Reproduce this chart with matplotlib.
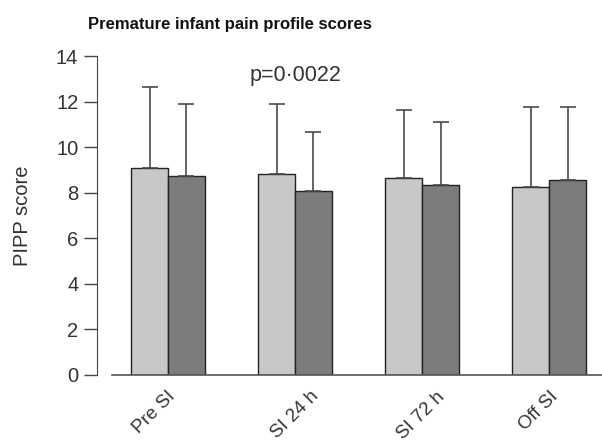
import matplotlib.pyplot as plt
import numpy as np

plt.rcParams['font.family'] = ['Liberation Sans', 'DejaVu Sans']

groups = ["Pre SI", "SI 24 h", "SI 72 h", "Off SI"]
mean_a = [9.08, 8.82, 8.64, 8.27]
upper_a = [12.63, 11.89, 11.65, 11.78]
mean_b = [8.73, 8.07, 8.35, 8.57]
upper_b = [11.89, 10.67, 11.10, 11.74]

sd_a = np.array(upper_a) - np.array(mean_a)
sd_b = np.array(upper_b) - np.array(mean_b)

fig = plt.figure(figsize=(6.02, 4.47), dpi=100)
ax = fig.add_axes([112 / 602, 1 - 375 / 447, 490 / 602, 319 / 447])

x = np.arange(len(groups))
w = 0.291
err_kw = dict(ecolor="#4a4a4a", elinewidth=1.2, capsize=5.5, capthick=1.2)
ax.bar(x - w / 2, mean_a, w, color="#c8c8c8", edgecolor="#222222", linewidth=1.0,
       yerr=[np.zeros(4), sd_a], error_kw=err_kw)
ax.bar(x + w / 2, mean_b, w, color="#7c7c7c", edgecolor="#222222", linewidth=1.0,
       yerr=[np.zeros(4), sd_b], error_kw=err_kw)

ax.set_xlim(-0.441, 3.417)
ax.set_ylim(0, 14)
ax.set_yticks(range(0, 15, 2))
ax.set_xticks(x)
ax.set_xticklabels([])

# slanted category names, each nudged a little (offsets in pixels)
nudge_px = [-1, 15, 14, 1]
for xi, name, dx in zip(x, groups, nudge_px):
    ax.annotate(name, xy=(xi, 0), xycoords=("data", "axes fraction"),
                xytext=(dx * 0.72, -13 * 0.72), textcoords="offset points",
                rotation=45, rotation_mode="anchor", ha="right", va="top",
                fontsize=13.5, color="#333333", annotation_clip=False)

for s in ("top", "right"):
    ax.spines[s].set_visible(False)
ax.spines["left"].set_position(("outward", 10.8))
ax.spines["left"].set_color("#444444")
ax.spines["bottom"].set_color("#555555")
ax.spines["bottom"].set_linewidth(1.2)
ax.tick_params(axis="y", length=9.5, width=1.0, color="#444444", labelsize=14.5,
               labelcolor="#333333", pad=4)
ax.tick_params(axis="x", length=0)

ax.set_ylabel("PIPP score", fontsize=14.5, color="#333333", labelpad=17)
ax.text(1.0, 13.15, "p=0\u00b70022", fontsize=15.5, color="#333333", ha="center", va="center")
fig.text(88 / 602, 1 - 24 / 447, "Premature infant pain profile scores", fontsize=12,
         fontweight="bold", color="#111111", ha="left", va="center")

fig.savefig("out.png", dpi=100)
